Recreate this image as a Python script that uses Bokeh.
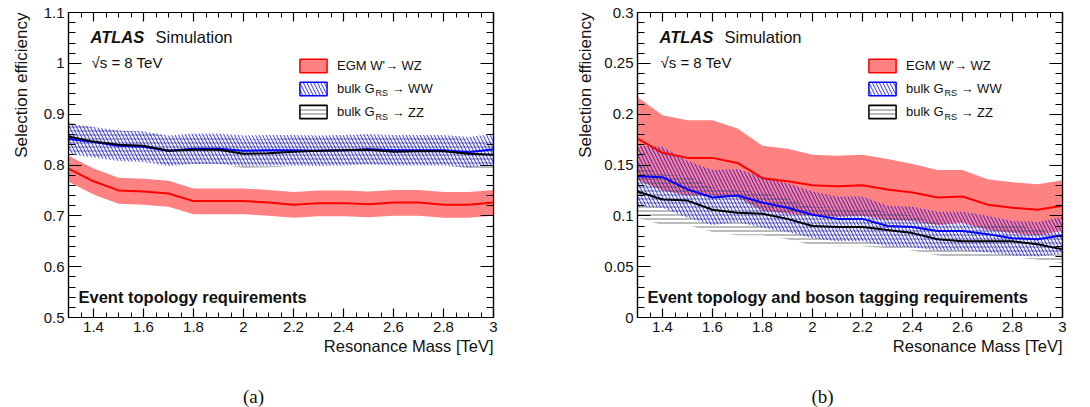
import math
from bokeh.plotting import figure
from bokeh.models import (Range1d, FixedTicker, LinearAxis, Label, Legend, LegendItem,
                          CustomJSTickFormatter, Title)
from bokeh.layouts import row, column
from bokeh.embed import file_html
from bokeh.resources import INLINE

# ---------------- data ----------------
mass = [1.3, 1.4, 1.5, 1.6, 1.7, 1.8, 1.9, 2.0, 2.1, 2.2, 2.3, 2.4, 2.5, 2.6, 2.7, 2.8, 2.9, 3.0]

# (a) event topology requirements
a_wz = [0.793, 0.768, 0.750, 0.748, 0.744, 0.729, 0.729, 0.729, 0.726, 0.722, 0.725, 0.725, 0.723, 0.726, 0.726, 0.722, 0.722, 0.726]
a_wz_up = [0.818, 0.793, 0.775, 0.773, 0.769, 0.754, 0.754, 0.754, 0.751, 0.747, 0.750, 0.750, 0.748, 0.751, 0.751, 0.747, 0.747, 0.751]
a_wz_lo = [0.767, 0.742, 0.724, 0.722, 0.718, 0.703, 0.703, 0.703, 0.700, 0.696, 0.699, 0.699, 0.697, 0.700, 0.700, 0.696, 0.696, 0.700]

a_ww = [0.851, 0.845, 0.838, 0.836, 0.828, 0.832, 0.832, 0.828, 0.829, 0.829, 0.828, 0.829, 0.831, 0.829, 0.829, 0.829, 0.825, 0.831]
a_ww_up = [0.881, 0.875, 0.868, 0.866, 0.858, 0.862, 0.862, 0.858, 0.859, 0.859, 0.858, 0.859, 0.861, 0.859, 0.859, 0.859, 0.855, 0.861]
a_ww_lo = [0.821, 0.815, 0.808, 0.806, 0.798, 0.802, 0.802, 0.798, 0.799, 0.799, 0.798, 0.799, 0.801, 0.799, 0.799, 0.799, 0.795, 0.801]

a_zz = [0.856, 0.846, 0.840, 0.838, 0.828, 0.830, 0.830, 0.822, 0.823, 0.826, 0.828, 0.829, 0.830, 0.826, 0.827, 0.827, 0.822, 0.820]
a_zz_up = [0.884, 0.874, 0.868, 0.866, 0.856, 0.858, 0.858, 0.850, 0.851, 0.854, 0.856, 0.857, 0.858, 0.854, 0.855, 0.855, 0.850, 0.848]
a_zz_lo = [0.828, 0.818, 0.812, 0.810, 0.800, 0.802, 0.802, 0.794, 0.795, 0.798, 0.800, 0.801, 0.802, 0.798, 0.799, 0.799, 0.794, 0.792]

# (b) event topology and boson tagging requirements
b_wz = [0.176, 0.162, 0.157, 0.157, 0.152, 0.137, 0.134, 0.130, 0.129, 0.130, 0.126, 0.123, 0.118, 0.119, 0.111, 0.108, 0.106, 0.110]
b_wz_up = [0.217, 0.199, 0.194, 0.194, 0.186, 0.169, 0.166, 0.160, 0.159, 0.160, 0.156, 0.151, 0.145, 0.145, 0.136, 0.133, 0.131, 0.135]
b_wz_lo = [0.135, 0.125, 0.120, 0.120, 0.118, 0.105, 0.102, 0.100, 0.099, 0.100, 0.096, 0.095, 0.091, 0.093, 0.086, 0.083, 0.081, 0.085]

b_ww = [0.139, 0.138, 0.126, 0.118, 0.120, 0.113, 0.108, 0.101, 0.097, 0.097, 0.090, 0.089, 0.085, 0.085, 0.082, 0.078, 0.077, 0.081]
b_ww_up = [0.169, 0.168, 0.154, 0.145, 0.146, 0.138, 0.132, 0.124, 0.119, 0.119, 0.110, 0.109, 0.104, 0.104, 0.100, 0.095, 0.094, 0.099]
b_ww_lo = [0.109, 0.108, 0.098, 0.091, 0.094, 0.088, 0.084, 0.078, 0.075, 0.075, 0.070, 0.069, 0.066, 0.066, 0.064, 0.061, 0.060, 0.063]

b_zz = [0.124, 0.116, 0.115, 0.106, 0.103, 0.102, 0.097, 0.090, 0.089, 0.089, 0.086, 0.083, 0.077, 0.075, 0.075, 0.075, 0.072, 0.067]
b_zz_up = [0.150, 0.141, 0.139, 0.128, 0.125, 0.123, 0.117, 0.109, 0.108, 0.108, 0.104, 0.100, 0.093, 0.091, 0.091, 0.091, 0.087, 0.081]
b_zz_lo = [0.098, 0.091, 0.091, 0.084, 0.081, 0.081, 0.077, 0.071, 0.070, 0.070, 0.068, 0.066, 0.061, 0.059, 0.059, 0.059, 0.057, 0.053]

labels_wz = "EGM W'\u2192 WZ"
label_bulk = "bulk G"
sub_rs = "RS"
arrow_ww = "\u2192 WW"
arrow_zz = "\u2192 ZZ"
atlas_text = "ATLAS"
sim_text = "Simulation"
energy_text = "\u221as = 8 TeV"
x_title = "Resonance Mass [TeV]"
y_title = "Selection efficiency"

x_major = [1.4, 1.6, 1.8, 2.0, 2.2, 2.4, 2.6, 2.8, 3.0]

FONT = "Liberation Sans"
RED_FILL = "#ff8282"
NAN = float("nan")

fmt = CustomJSTickFormatter(code="return tick.toFixed(2).replace(/0+$/, '').replace(/\\.$/, '');")
empty_fmt = CustomJSTickFormatter(code="return '';")


def style_axis(ax, ticker, formatter, maj_in, min_in):
    ax.ticker = ticker
    ax.formatter = formatter
    ax.major_tick_in = maj_in
    ax.major_tick_out = 0
    ax.minor_tick_in = min_in
    ax.minor_tick_out = 0
    ax.axis_line_color = "black"
    ax.axis_line_width = 1.2
    ax.major_tick_line_color = "black"
    ax.minor_tick_line_color = "black"
    ax.major_tick_line_width = 1.2
    ax.major_label_text_font = FONT
    ax.major_label_text_font_size = "15px"
    ax.major_label_text_color = "#111111"
    ax.major_label_standoff = 4


def make_panel(width, ml, mr, ylo, yhi, y_major, y_minor, wz, wz_up, wz_lo, ww, ww_up, ww_lo,
               zz, zz_up, zz_lo, req_text, ystand):
    p = figure(width=width, height=385, x_range=Range1d(1.3, 3.0), y_range=Range1d(ylo, yhi),
               output_backend="svg", toolbar_location=None,
               min_border_left=ml, min_border_right=mr, min_border_top=12, min_border_bottom=68)
    p.grid.visible = False
    p.outline_line_color = "black"
    p.outline_line_width = 1.2
    p.background_fill_color = "white"
    p.border_fill_color = "white"

    x_minor = [round(1.3 + 0.05 * i, 2) for i in range(35)]
    xt = FixedTicker(ticks=x_major, minor_ticks=x_minor)
    yt = FixedTicker(ticks=y_major, minor_ticks=y_minor)

    style_axis(p.xaxis[0], xt, fmt, 9, 5)
    style_axis(p.yaxis[0], yt, fmt, 13, 7)
    top = LinearAxis()
    style_axis(top, xt, empty_fmt, 9, 5)
    top.major_label_standoff = 0
    top.major_label_text_font_size = "1px"
    p.add_layout(top, "above")
    right = LinearAxis()
    style_axis(right, yt, empty_fmt, 13, 7)
    right.major_label_standoff = 0
    right.major_label_text_font_size = "1px"
    p.add_layout(right, "right")

    p.add_layout(Title(text=x_title, align="right", text_font=FONT, text_font_size="16.5px",
                       text_font_style="normal", text_color="#111111", standoff=0), "below")
    p.add_layout(Title(text=y_title, align="right", text_font=FONT, text_font_size="17px",
                       text_font_style="normal", text_color="#111111", standoff=ystand), "left")

    # bands
    p.varea(x=mass, y1=wz_lo, y2=wz_up, fill_color=RED_FILL, fill_alpha=1.0)
    p.varea(x=mass, y1=zz_lo, y2=zz_up, fill_alpha=0, hatch_pattern="-",
            hatch_color="#555555", hatch_scale=4, hatch_weight=0.8)
    p.varea(x=mass, y1=ww_lo, y2=ww_up, fill_alpha=0, hatch_pattern="\\",
            hatch_color="#0000ff", hatch_scale=7, hatch_weight=0.8)
    # central lines
    p.line(mass, wz, line_color="#ff0000", line_width=2)
    p.line(mass, ww, line_color="#0000ff", line_width=2)
    p.line(mass, zz, line_color="black", line_width=2)

    # legend proxies (not drawn in the frame)
    r1 = p.quad(left=[NAN], right=[NAN], top=[NAN], bottom=[NAN], fill_color=RED_FILL,
                line_color="#ff0000", line_width=1.5)
    r2 = p.quad(left=[NAN], right=[NAN], top=[NAN], bottom=[NAN], fill_color="white", hatch_pattern="\\",
                hatch_color="#0000ff", hatch_scale=7, hatch_weight=0.8, line_color="#0000ff", line_width=1.5)
    r3 = p.quad(left=[NAN], right=[NAN], top=[NAN], bottom=[NAN], fill_color="white", hatch_pattern="-",
                hatch_color="#555555", hatch_scale=4, hatch_weight=0.8, line_color="black", line_width=1.5)
    leg = Legend(items=[LegendItem(label=labels_wz, renderers=[r1]),
                        LegendItem(label=label_bulk, renderers=[r2]),
                        LegendItem(label=label_bulk, renderers=[r3])],
                 location=(228, 197), glyph_width=34, glyph_height=17, label_height=17,
                 label_standoff=7, spacing=6, padding=0, margin=0,
                 border_line_color=None, background_fill_alpha=0,
                 label_text_font=FONT, label_text_font_size="13px", label_text_color="#111111")
    p.add_layout(leg, "center")

    def lab(text, x, y, size, style="normal", align="left", baseline="middle", angle=0, font=FONT):
        p.add_layout(Label(x=x, y=y, x_units="screen", y_units="screen", text=text,
                           text_font=font, text_font_size=size, text_font_style=style,
                           text_align=align, text_baseline=baseline, angle=angle,
                           text_color="#111111"))

    lab(sub_rs, 307, 225, "9px")
    lab(arrow_ww, 323, 229, "13px")
    lab(sub_rs, 307, 201, "9px")
    lab(arrow_zz, 323, 205, "13px")

    lab(atlas_text, 22, 281, "16.5px", style="bold italic")
    lab(sim_text, 87, 281, "16.5px")
    lab(energy_text, 23, 255, "15px")
    lab(req_text, 10, 21, "16.5px", style="bold")
    return p


def make_tag(width, text, xc):
    t = figure(width=width, height=22, x_axis_type=None, y_axis_type=None,
               output_backend="svg", toolbar_location=None,
               min_border_left=0, min_border_right=0, min_border_top=0, min_border_bottom=0)
    t.grid.visible = False
    t.outline_line_color = None
    t.add_layout(Label(x=xc, y=11, x_units="screen", y_units="screen", text=text,
                       text_font="Liberation Serif", text_font_size="19px",
                       text_align="center", text_baseline="middle", text_color="#111111"))
    return t


pa = make_panel(537, 68, 44, 0.5, 1.1,
                [0.5, 0.6, 0.7, 0.8, 0.9, 1.0, 1.1],
                [round(0.5 + 0.02 * i, 2) for i in range(31)],
                a_wz, a_wz_up, a_wz_lo, a_ww, a_ww_up, a_ww_lo, a_zz, a_zz_up, a_zz_lo,
                "Event topology requirements", 19)
pb = make_panel(545, 100, 20, 0.0, 0.3,
                [0.0, 0.05, 0.1, 0.15, 0.2, 0.25, 0.3],
                [round(0.01 * i, 2) for i in range(31)],
                b_wz, b_wz_up, b_wz_lo, b_ww, b_ww_up, b_ww_lo, b_zz, b_zz_up, b_zz_lo,
                "Event topology and boson tagging requirements", 13)
ta = make_tag(537, "(a)", 253)
tb = make_tag(545, "(b)", 285)

layout = column(row(pa, pb), row(ta, tb))
open("out.html", "w").write(file_html(layout, INLINE))
